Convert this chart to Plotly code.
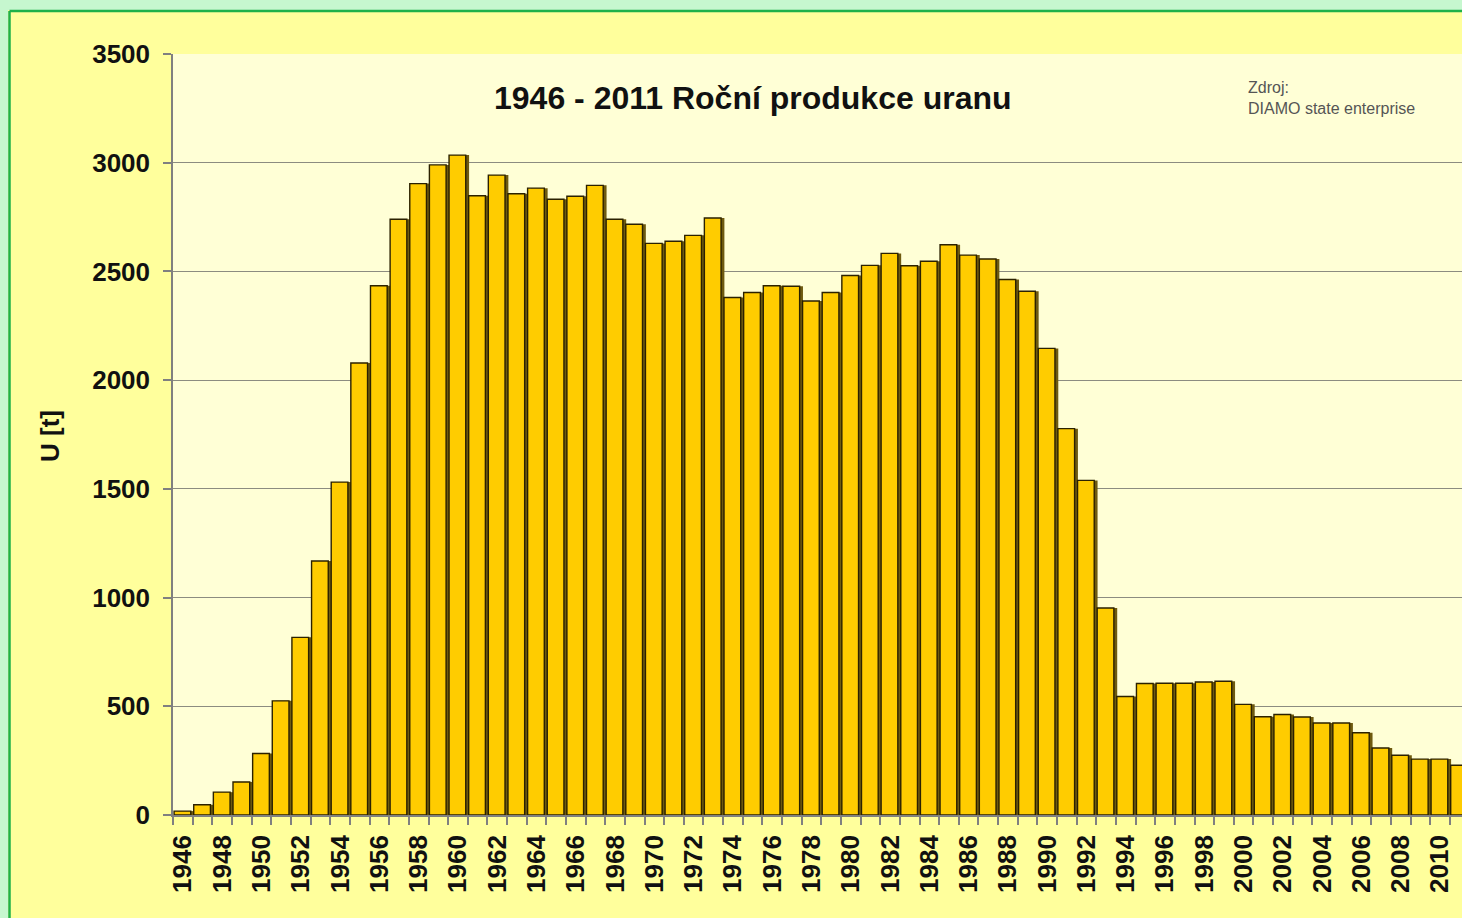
import plotly.graph_objects as go

years = list(range(1946, 2012))
production_t = [
    18, 47, 105, 152, 283, 525, 817, 1168, 1531, 2079,
    2434, 2740, 2904, 2990, 3035, 2848, 2943, 2857, 2883, 2832,
    2846, 2896, 2740, 2717, 2629, 2639, 2666, 2746, 2380, 2403,
    2434, 2432, 2364, 2403, 2481, 2528, 2583, 2526, 2547, 2623,
    2575, 2557, 2463, 2409, 2146, 1777, 1539, 952, 545, 605,
    606, 606, 612, 615, 509, 452, 462, 451, 423, 423,
    378, 308, 275, 257, 257, 229,
]
tick_years = list(range(1946, 2012, 2))
y_ticks = [0, 500, 1000, 1500, 2000, 2500, 3000, 3500]

W, H = 1462, 918
L, R, T, B = 173, 1462, 54, 815


def px(x):
    return (x - L) / (R - L)


def py(y):
    return (B - y) / (B - T)


FONT = "Liberation Sans, Arial, sans-serif"

fig = go.Figure()
# shadow
fig.add_trace(go.Bar(
    x=years, y=production_t, width=0.85, offset=-0.425 + 0.14,
    marker=dict(color="#6e5a10", line=dict(width=0)),
    hoverinfo="skip", showlegend=False,
))
fig.add_trace(go.Bar(
    x=years, y=production_t, width=0.85, offset=-0.425 - 0.03,
    marker=dict(color="#FFCC00", line=dict(color="#2b2100", width=1.4)),
    showlegend=False, name="U [t]",
))

fig.update_layout(
    width=W, height=H,
    margin=dict(l=L, r=W - R, t=T, b=H - B),
    paper_bgcolor="#ffff9c",
    plot_bgcolor="#ffffd6",
    barmode="overlay",
    font=dict(family=FONT, color="#111"),
    xaxis=dict(
        range=[1945.49, 2011.12],
        tickmode="array", tickvals=tick_years,
        ticktext=[str(y) for y in tick_years],
        tickangle=-90,
        ticks="",
        tickfont=dict(family=FONT, size=26, weight="bold", color="#111"),
        showgrid=False, zeroline=False,
        showline=True, linecolor="#808080", linewidth=1.5,
        minor=dict(ticks="outside", tickmode="linear", tick0=1945.5, dtick=1,
                   ticklen=8, tickcolor="#808080", tickwidth=1.5, showgrid=False),
        ticklabelstandoff=8,
    ),
    yaxis=dict(
        range=[0, 3500],
        tickmode="array", tickvals=y_ticks,
        ticks="outside", ticklen=8, tickcolor="#808080", tickwidth=1.5,
        tickfont=dict(family=FONT, size=26, weight="bold", color="#111"),
        showgrid=True, gridcolor="#8c8c80", gridwidth=1.2,
        zeroline=False,
        showline=True, linecolor="#808080", linewidth=1.5,
        ticklabelstandoff=8,
    ),
    shapes=[
        dict(type="rect", xref="paper", yref="paper", x0=px(-5), x1=px(W + 5),
             y0=py(-5), y1=py(10), fillcolor="#c6f7cf", line=dict(width=0), layer="above"),
        dict(type="rect", xref="paper", yref="paper", x0=px(-5), x1=px(8),
             y0=py(-5), y1=py(H + 5), fillcolor="#c6f7cf", line=dict(width=0), layer="above"),
        dict(type="line", xref="paper", yref="paper", x0=px(9.5), x1=px(W + 5),
             y0=py(11), y1=py(11), line=dict(color="#1fb14a", width=2.5), layer="above"),
        dict(type="line", xref="paper", yref="paper", x0=px(9.5), x1=px(9.5),
             y0=py(11), y1=py(H + 5), line=dict(color="#1fb14a", width=2.5), layer="above"),
    ],
    annotations=[
        dict(text="<b>1946 - 2011 Roční produkce uranu</b>", xref="paper", yref="paper",
             x=px(753), y=py(98), xanchor="center", yanchor="middle", showarrow=False,
             font=dict(family=FONT, size=32, color="#111")),
        dict(text="Zdroj:<br>DIAMO state enterprise", xref="paper", yref="paper",
             x=px(1246), y=py(98), xanchor="left", yanchor="middle", showarrow=False,
             align="left", font=dict(family=FONT, size=16, color="#555")),
        dict(text="<b>U [t]</b>", xref="paper", yref="paper",
             x=px(50), y=py(436), xanchor="center", yanchor="middle", showarrow=False,
             textangle=-90, font=dict(family=FONT, size=26, color="#111")),
    ],
)

fig.write_html(
    "out.html",
    config={"displayModeBar": False},
    post_script="document.body.style.margin='0';document.body.style.overflow='hidden';",
)
